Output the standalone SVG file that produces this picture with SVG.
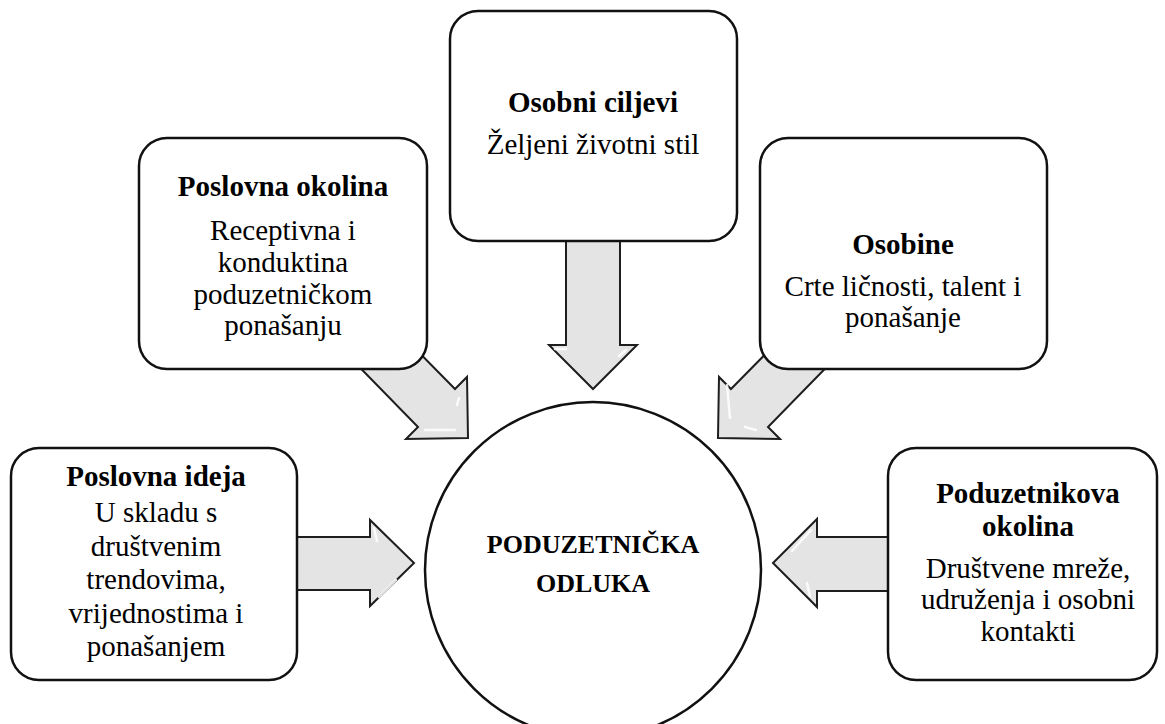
<svg xmlns="http://www.w3.org/2000/svg" width="1165" height="724" viewBox="0 0 1165 724">
<defs>
<style>
.arrow{fill:#e4e4e4;stroke:#1e1e1e;stroke-width:2;stroke-linejoin:miter}
.hl{fill:none;stroke:#ffffff;stroke-width:2.5;stroke-linecap:round;opacity:0.85}
.box{fill:#ffffff;stroke:#111111;stroke-width:2.5}
.t{font-family:"Liberation Serif","Times New Roman",serif;font-size:29px;fill:#000;text-anchor:middle}
.b{font-weight:bold}
.c{font-family:"Liberation Serif","Times New Roman",serif;font-size:26px;font-weight:bold;fill:#000;text-anchor:middle}
</style>
</defs>
<rect width="1165" height="724" fill="#ffffff"/>
<g id="connectors">
<polygon class="arrow" points="566,230 620,230 620,345 637,345 593,389 549,345 566,345"/>
<path class="hl" d="M555,349 L566,349 M626,350 L619,356"/>
<polygon class="arrow" points="290,537 370,537 370,520 414,563 370,606 370,590 290,590"/>
<path class="hl" d="M374,528 L377,541 M379,597 L396,580"/>
<polygon class="arrow" points="895,537 817,537 817,519 773,563 817,607 817,591 895,591"/>
<path class="hl" d="M811,530 L792,551 M810,596 L807,583"/>
<polygon class="arrow" points="332,339 418,427 406,439 468,438 467,377 455,389 395,328"/>
<path class="hl" d="M425,430 L455,430 M459,398 L457,405"/>
<polygon class="arrow" points="854,339 768,427 780,439 718,438 719,377 731,389 791,328"/>
<path class="hl" d="M727,385 L730,418 M745,427 L756,430"/>
</g>
<g id="node-poslovna-ideja">
<rect class="box" x="11" y="448" width="286" height="232" rx="28"/>
<text class="t b" x="156" y="486">Poslovna ideja</text>
<text class="t" x="156" y="522">U skladu s</text>
<text class="t" x="156" y="555.5">društvenim</text>
<text class="t" x="156" y="589">trendovima,</text>
<text class="t" x="156" y="622.5">vrijednostima i</text>
<text class="t" x="156" y="656">ponašanjem</text>
</g>
<g id="node-poslovna-okolina">
<rect class="box" x="139" y="138" width="288" height="231" rx="28"/>
<text class="t b" x="283" y="196">Poslovna okolina</text>
<text class="t" x="283" y="240">Receptivna i</text>
<text class="t" x="283" y="272">konduktina</text>
<text class="t" x="283" y="303.5">poduzetničkom</text>
<text class="t" x="283" y="335">ponašanju</text>
</g>
<g id="node-osobni-ciljevi">
<rect class="box" x="450" y="11" width="287" height="230" rx="28"/>
<text class="t b" x="593" y="112">Osobni ciljevi</text>
<text class="t" x="593" y="154">Željeni životni stil</text>
</g>
<g id="node-osobine">
<rect class="box" x="760" y="138" width="287" height="231" rx="28"/>
<text class="t b" x="903" y="254">Osobine</text>
<text class="t" x="903" y="296">Crte ličnosti, talent i</text>
<text class="t" x="903" y="327">ponašanje</text>
</g>
<g id="node-poduzetnikova-okolina">
<rect class="box" x="888" y="448" width="269" height="232" rx="28"/>
<text class="t b" x="1028" y="503">Poduzetnikova</text>
<text class="t b" x="1028" y="536">okolina</text>
<text class="t" x="1028" y="578">Društvene mreže,</text>
<text class="t" x="1028" y="609">udruženja i osobni</text>
<text class="t" x="1028" y="641">kontakti</text>
</g>
<g id="node-poduzetnicka-odluka">
<circle cx="593" cy="570" r="168" fill="#ffffff" stroke="#111111" stroke-width="2.5"/>
<text class="c" x="593" y="553">PODUZETNIČKA</text>
<text class="c" x="593" y="592">ODLUKA</text>
</g>
</svg>
